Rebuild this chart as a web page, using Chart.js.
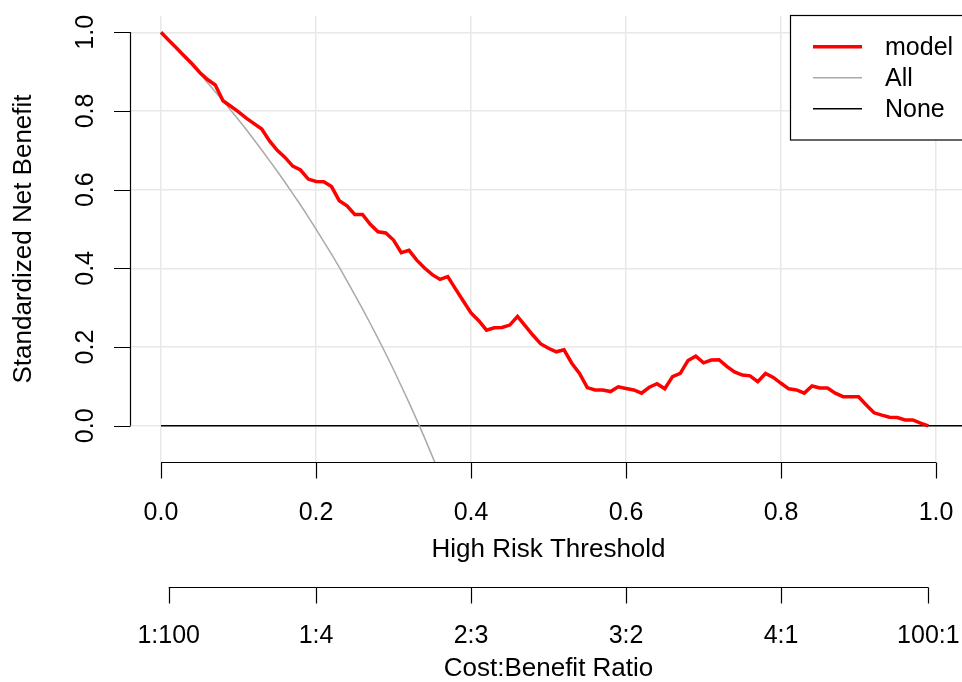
<!DOCTYPE html>
<html>
<head>
<meta charset="utf-8">
<script src="https://cdn.jsdelivr.net/npm/chart.js@4.4.1/dist/chart.umd.min.js"></script>
<style>
  html, body { margin: 0; padding: 0; background: #ffffff; }
  canvas { display: block; }
</style>
</head>
<body>
<canvas id="dca" width="962" height="682"></canvas>
<script>
// decision curve: thresholds 0.00 .. 0.99
const thresholds = Array.from({ length: 100 }, (_, i) => i / 100);

const modelBenefit = [
  1.000, 0.980, 0.960, 0.940, 0.920, 0.898, 0.880, 0.866, 0.826, 0.812,
  0.798, 0.782, 0.768, 0.754, 0.724, 0.700, 0.682, 0.660, 0.650, 0.627,
  0.621, 0.620, 0.608, 0.572, 0.559, 0.537, 0.537, 0.512, 0.493, 0.490,
  0.472, 0.440, 0.446, 0.421, 0.401, 0.384, 0.372, 0.379, 0.348, 0.317,
  0.287, 0.267, 0.243, 0.249, 0.250, 0.256, 0.278, 0.254, 0.230, 0.208,
  0.197, 0.188, 0.193, 0.159, 0.133, 0.097, 0.091, 0.091, 0.087, 0.099,
  0.095, 0.091, 0.083, 0.098, 0.107, 0.094, 0.125, 0.133, 0.166, 0.177,
  0.160, 0.167, 0.168, 0.151, 0.137, 0.129, 0.127, 0.112, 0.133, 0.123,
  0.108, 0.094, 0.091, 0.083, 0.101, 0.096, 0.096, 0.083, 0.074, 0.074,
  0.074, 0.053, 0.033, 0.027, 0.022, 0.021, 0.015, 0.015, 0.007, 0.000
];

// treat-all curve, only the part that is inside the plot
const allBenefit = [
  1.000, 0.980, 0.959, 0.938, 0.917, 0.895, 0.872, 0.849, 0.826, 0.802,
  0.778, 0.753, 0.727, 0.701, 0.674, 0.647, 0.619, 0.590, 0.561, 0.531,
  0.500, 0.468, 0.436, 0.403, 0.368, 0.333, 0.297, 0.260, 0.222, 0.183,
  0.143, 0.101, 0.059, 0.015, -0.030, -0.077, -0.125
];

const noneX = [0, 1.04];
const noneBenefit = [0, 0];

const xTicks = [0, 0.2, 0.4, 0.6, 0.8, 1.0];
const yTicks = [0, 0.2, 0.4, 0.6, 0.8, 1.0];
const ratioTicks = [1 / 101, 0.2, 0.4, 0.6, 0.8, 100 / 101];
const ratioLabels = ['1:100', '1:4', '2:3', '3:2', '4:1', '100:1'];

const FONT = '25px "Liberation Sans", Arial, sans-serif';
const TITLE_FONT = '26px "Liberation Sans", Arial, sans-serif';
const TEXT = '#000000';

function toPoints(xs, ys) {
  return ys.map((y, i) => ({ x: xs[i], y: y }));
}

// base-graphics style axes, drawn off the chart's own scales
const rAxes = {
  id: 'rAxes',
  afterDraw(chart) {
    const { ctx, chartArea, scales } = chart;
    const xs = scales.x, ys = scales.y;
    const tick = 16;
    ctx.save();
    ctx.strokeStyle = '#000000';
    ctx.lineWidth = 1.2;
    ctx.fillStyle = TEXT;
    ctx.font = FONT;

    // left axis
    const ax = chartArea.left;
    ctx.beginPath();
    ctx.moveTo(ax + 0.5, ys.getPixelForValue(yTicks[0]));
    ctx.lineTo(ax + 0.5, ys.getPixelForValue(yTicks[yTicks.length - 1]));
    yTicks.forEach(v => {
      const py = Math.round(ys.getPixelForValue(v)) + 0.5;
      ctx.moveTo(ax - tick, py);
      ctx.lineTo(ax + 0.5, py);
    });
    ctx.stroke();
    ctx.textAlign = 'center';
    ctx.textBaseline = 'alphabetic';
    yTicks.forEach(v => {
      ctx.save();
      ctx.translate(93, ys.getPixelForValue(v));
      ctx.rotate(-Math.PI / 2);
      ctx.fillText(v.toFixed(1), 0, 0);
      ctx.restore();
    });
    ctx.font = TITLE_FONT;
    ctx.save();
    ctx.translate(31, (chartArea.top + chartArea.bottom) / 2);
    ctx.rotate(-Math.PI / 2);
    ctx.fillText('Standardized Net Benefit', 0, 0);
    ctx.restore();
    ctx.font = FONT;

    // threshold axis
    const by = chartArea.bottom + 0.5;
    ctx.beginPath();
    ctx.moveTo(xs.getPixelForValue(xTicks[0]), by);
    ctx.lineTo(xs.getPixelForValue(xTicks[xTicks.length - 1]), by);
    xTicks.forEach(v => {
      const px = Math.round(xs.getPixelForValue(v)) + 0.5;
      ctx.moveTo(px, by);
      ctx.lineTo(px, by + tick);
    });
    ctx.stroke();
    xTicks.forEach(v => {
      ctx.fillText(v.toFixed(1), xs.getPixelForValue(v), chartArea.bottom + 58);
    });
    const midX = (xs.getPixelForValue(0) + xs.getPixelForValue(1)) / 2;
    ctx.font = TITLE_FONT;
    ctx.fillText('High Risk Threshold', midX, chartArea.bottom + 95);
    ctx.font = FONT;

    // cost:benefit axis
    const cy = chartArea.bottom + 125.5;
    ctx.beginPath();
    ctx.moveTo(xs.getPixelForValue(ratioTicks[0]), cy);
    ctx.lineTo(xs.getPixelForValue(ratioTicks[ratioTicks.length - 1]), cy);
    ratioTicks.forEach(v => {
      const px = Math.round(xs.getPixelForValue(v)) + 0.5;
      ctx.moveTo(px, cy);
      ctx.lineTo(px, cy + tick);
    });
    ctx.stroke();
    ratioTicks.forEach((v, i) => {
      ctx.fillText(ratioLabels[i], xs.getPixelForValue(v), chartArea.bottom + 181);
    });
    ctx.font = TITLE_FONT;
    ctx.fillText('Cost:Benefit Ratio', midX, chartArea.bottom + 214);
    ctx.font = FONT;

    // legend box
    const lx = 790.5, ly = 15.5;
    ctx.fillStyle = '#ffffff';
    ctx.fillRect(lx, ly, 200, 124.5);
    ctx.strokeRect(lx, ly, 200, 124.5);
    ctx.textAlign = 'left';
    ctx.textBaseline = 'middle';
    chart.data.datasets.forEach((ds, i) => {
      const rowY = 46.7 + i * 31;
      ctx.beginPath();
      ctx.strokeStyle = ds.borderColor;
      ctx.lineWidth = ds.borderWidth;
      ctx.moveTo(813, rowY);
      ctx.lineTo(862, rowY);
      ctx.stroke();
      ctx.fillStyle = TEXT;
      ctx.fillText(ds.label, 885, rowY + 1);
    });
    ctx.restore();
  }
};

new Chart(document.getElementById('dca'), {
  type: 'line',
  data: {
    datasets: [
      {
        label: 'model',
        data: toPoints(thresholds, modelBenefit),
        borderColor: '#ff0000',
        borderWidth: 3.5,
        pointRadius: 0,
        tension: 0,
        order: 0
      },
      {
        label: 'All',
        data: toPoints(thresholds, allBenefit),
        borderColor: '#a9a9a9',
        borderWidth: 1.5,
        pointRadius: 0,
        tension: 0,
        order: 1
      },
      {
        label: 'None',
        data: toPoints(noneX, noneBenefit),
        borderColor: '#000000',
        borderWidth: 1.4,
        pointRadius: 0,
        tension: 0,
        order: 2
      }
    ]
  },
  options: {
    responsive: false,
    animation: false,
    devicePixelRatio: 1,
    layout: { padding: { left: 130, top: 16, right: 0, bottom: 220 } },
    scales: {
      x: {
        type: 'linear',
        min: -0.04,
        max: 1.0335,
        afterBuildTicks: s => { s.ticks = xTicks.map(v => ({ value: v })); },
        ticks: { display: false },
        grid: { color: '#e8e8e8', lineWidth: 1.5, drawTicks: false },
        border: { display: false }
      },
      y: {
        type: 'linear',
        min: -0.092,
        max: 1.0414,
        afterBuildTicks: s => { s.ticks = yTicks.map(v => ({ value: v })); },
        ticks: { display: false },
        grid: { color: '#e8e8e8', lineWidth: 1.5, drawTicks: false },
        border: { display: false }
      }
    },
    plugins: {
      legend: { display: false },
      tooltip: { enabled: false }
    }
  },
  plugins: [rAxes]
});
</script>
</body>
</html>
